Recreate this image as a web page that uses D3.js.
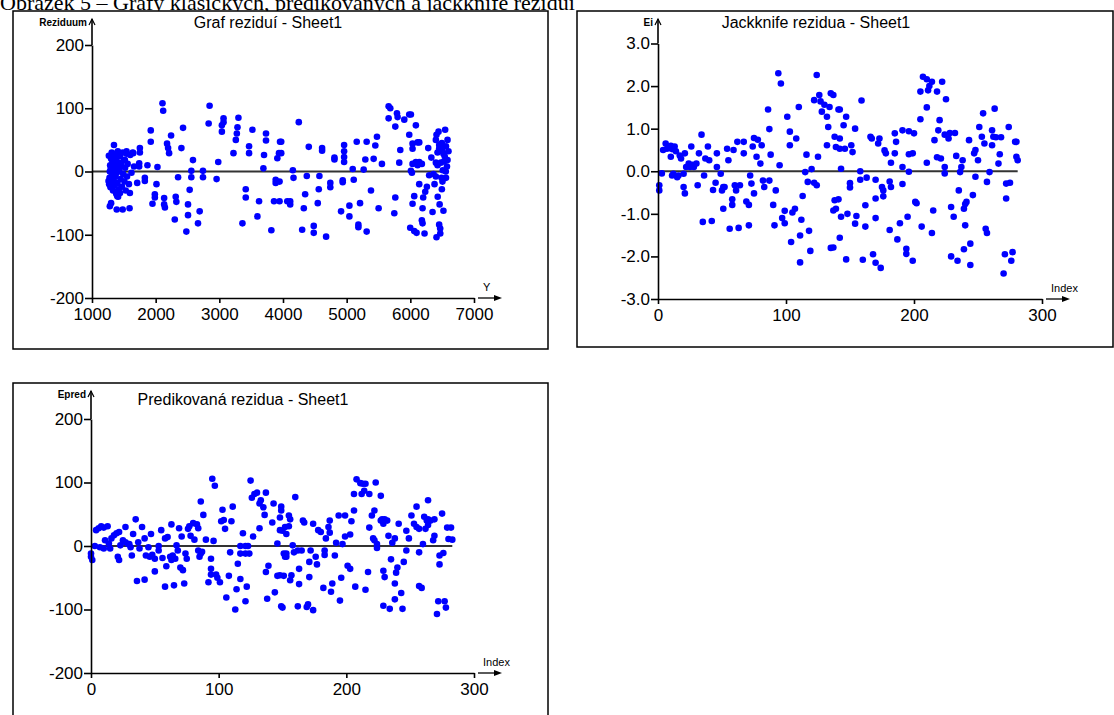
<!DOCTYPE html>
<html>
<head>
<meta charset="utf-8">
<script src="https://cdn.jsdelivr.net/npm/d3@7"></script>
<style>
  body { margin: 0; background: #fff; }
  svg { display: block; }
</style>
</head>
<body>
<div id="chart"></div>
<script>
const caption = "Obrázek 5 – Grafy klasických, predikovaných a jackknife reziduí";

// [Y (fitted), residual]
const residualPoints = [
  [1270,-20],[1275,-10],[1280,0],[1285,10],[1290,-25],[1295,5],[1300,20],[1305,-15],[1310,30],[1315,-5],
  [1320,15],[1325,25],[1330,-30],[1335,8],[1340,-12],[1345,42],[1350,18],[1355,-22],[1360,3],[1365,28],
  [1370,-8],[1375,12],[1380,-35],[1385,22],[1390,-2],[1395,6],[1400,-18],[1405,32],[1410,-40],[1415,14],
  [1420,-28],[1430,2],[1440,24],[1450,-12],[1460,10],[1470,-24],[1480,30],[1490,-4],[1500,18],[1510,-16],
  [1520,6],[1530,-30],[1540,28],[1550,-8],[1560,12],[1580,-20],[1600,26],[1620,-2],[1640,30],[1660,8],
  [1280,-55],[1300,-50],[1260,-15],[1265,25],[1388,-60],[1482,-60],[1590,-58],[1397,-39],[1440,-34],[1595,-34],
  [1543,32],[1517,18],[1752,37],[1752,30],[1741,13],[1741,8],[1647,29],[1710,-18],[1830,-10],[1830,-15],
  [1871,10],[1923,65],[1923,47],[1950,-51],[1987,-36],[1987,-41],[2013,-20],[2028,7],[2107,108],[2118,96],
  [2133,-42],[2133,-52],[2145,-57],[2179,44],[2195,37],[2211,29],[2242,57],[2300,-76],[2315,-40],[2325,-48],
  [2352,-9],[2404,37],[2430,69],[2508,-52],[2508,-69],[2482,-95],[2534,-29],[2586,18],[2560,1],[2560,-9],
  [2665,-82],[2691,-63],[2743,1],[2743,-9],[2847,104],[2832,76],[2957,-12],[2983,15],[3040,63],[3040,73],
  [3066,84],[3066,78],[3222,29],[3259,50],[3275,60],[3285,70],[3300,85],[3415,-28],[3415,-41],[3363,-82],
  [3467,40],[3467,29],[3520,66],[3598,-71],[3624,-47],[3692,5],[3702,26],[3733,60],[3733,49],[3817,-93],
  [3859,-47],[3885,-13],[3885,-18],[3911,21],[3937,29],[3953,47],[4067,-47],[3972,47],[3972,29],[3946,-16],
  [3946,-47],[4155,2],[4165,-10],[4248,78],[4113,-47],[4113,-52],[4301,-92],[4327,-58],[4348,-36],[4374,-7],
  [4405,39],[4483,-86],[4483,-97],[4546,-50],[4562,-28],[4572,-7],[4614,37],[4614,33],[4677,-103],[4743,-18],
  [4743,-25],[4808,22],[4808,19],[4912,-63],[4938,-14],[4938,-17],[4960,42],[4960,32],[4960,23],[4960,15],
  [5043,-54],[5043,-71],[5095,4],[5111,-13],[5158,47],[5184,-84],[5184,-88],[5210,-50],[5267,3],[5293,19],
  [5314,47],[5314,-95],[5382,-30],[5424,20],[5450,41],[5476,55],[5502,-58],[5554,12],[5659,103],[5685,100],
  [5659,84],[5748,-66],[5764,71],[5764,-41],[5790,92],[5800,86],[5826,14],[5842,34],[5905,82],[5983,90],
  [6009,90],[6009,1],[6035,12],[6025,-2],[5983,58],[6035,44],[6035,36],[6087,73],[6061,-39],[6035,-51],
  [6087,15],[6114,10],[6140,15],[6181,12],[6140,-20],[6114,46],[6140,46],[5998,-89],[6061,-94],[6098,-97],
  [6192,-82],[6181,-77],[6192,-58],[6202,-41],[6234,-32],[6260,-24],[6223,-98],[6281,37],[6296,-6],[6349,-64],
  [6364,-4],[6401,50],[6411,58],[6443,63],[6427,30],[6453,36],[6479,38],[6505,32],[6453,42],[6401,14],
  [6427,10],[6479,14],[6531,16],[6584,18],[6401,-8],[6490,-10],[6505,-16],[6495,-28],[6453,-84],[6469,-90],
  [6411,-104],[6547,66],[6584,50],[6599,32],[6557,0],[6495,45],[6520,28],[6540,24],[6560,40],[6575,8],
  [6430,-40],[6460,-52],[6520,-62],[6380,-20],[6560,-10],[6330,22],[6470,-98],[6510,2]
];

// [index, jackknife residual]
const jackknifePoints = [
  [1,-0.33],[1,-0.45],[3,-0.05],[4,0.5],[6,0.65],[7,0.53],[9,0.55],[10,0.6],[11,0.52],[10,0.34],
  [11,-0.1],[12,-0.06],[13,0.58],[14,0.47],[15,-0.14],[16,-0.1],[17,0.37],[18,0.3],[20,-0.06],[20,-0.37],
  [21,-0.52],[21,0.42],[22,0.1],[24,0.18],[25,0.1],[26,0.58],[27,0.15],[28,0.1],[30,0.18],[31,-0.33],
  [32,0.42],[34,0.86],[35,-1.19],[36,-0.1],[37,0.3],[39,0.58],[40,0.26],[42,-1.17],[43,-0.44],[45,-0.27],
  [46,0.42],[46,0.1],[49,-0.06],[50,-0.45],[51,-0.88],[51,-0.37],[52,-0.37],[54,0.53],[55,0.26],[56,-1.35],
  [58,-0.79],[58,-0.66],[59,0.5],[60,-0.33],[61,-0.45],[62,0.69],[63,-1.33],[64,-0.33],[67,0.42],[67,0.69],
  [69,-0.71],[71,-0.79],[71,-1.27],[72,-0.1],[73,-0.29],[75,-0.52],[74,0.58],[75,0.78],[77,0.34],[78,0.74],
  [80,0.18],[81,0.61],[82,-0.22],[83,-0.37],[86,1.45],[87,0.99],[87,-0.22],[88,0.39],[90,-0.79],[91,-1.27],
  [92,-0.45],[94,2.3],[96,2.06],[95,0.14],[97,-1.1],[99,-1.22],[99,-0.93],[101,1.28],[103,0.93],[103,0.61],
  [104,-1.66],[105,-0.97],[107,-0.88],[108,0.77],[110,1.51],[111,-1.51],[111,-2.14],[112,-1.14],[113,-0.58],[115,-0.02],
  [116,0.39],[117,-0.25],[118,-1.4],[119,-1.87],[120,0.05],[122,-0.27],[124,-0.33],[124,2.26],[125,0.34],[122,1.67],
  [126,1.79],[127,1.64],[128,1.4],[130,1.56],[132,1.28],[133,1.04],[132,0.61],[137,1.79],[137,-1.79],[141,-0.66],
  [139,-0.88],[142,1.45],[142,0.77],[142,0.53],[135,1.83],[134,1.51],[141,1.45],[138,0.81],[139,0.57],[145,1.08],
  [147,1.28],[146,0.53],[151,0.61],[152,0.45],[154,1.0],[159,1.66],[166,0.81],[167,0.77],[173,0.77],[172,0.65],
  [177,0.49],[178,0.42],[182,0.2],[185,0.89],[186,0.69],[185,0.42],[191,0.96],[196,0.94],[200,0.89],[191,0.1],
  [196,0.4],[199,0.42],[196,-0.01],[205,1.22],[207,2.22],[210,2.16],[214,2.1],[222,2.1],[212,2.0],[211,1.9],
  [205,1.87],[218,1.87],[225,1.69],[210,1.5],[220,1.2],[219,0.96],[216,0.73],[224,0.86],[227,0.77],[228,0.9],
  [232,0.9],[218,0.33],[221,0.3],[210,0.2],[224,0.1],[224,-0.05],[233,0.36],[237,0.1],[238,0.26],[236,-0.02],
  [243,0.73],[247,0.42],[248,0.5],[250,0.26],[251,1.04],[254,1.36],[253,0.81],[255,0.65],[261,0.96],[262,0.81],
  [263,1.47],[264,0.8],[268,0.8],[261,0.61],[274,1.04],[279,0.69],[280,0.69],[280,0.34],[281,0.26],[266,0.18],
  [267,0.4],[259,-0.02],[257,-0.25],[248,-0.13],[272,-0.29],[275,-0.27],[272,-0.64],[246,-0.56],[240,-0.77],[239,-0.88],
  [241,-0.72],[235,-0.45],[229,-0.84],[231,-1.07],[240,-1.27],[256,-1.35],[257,-1.45],[244,-1.7],[239,-1.83],[229,-2.0],
  [234,-2.1],[244,-2.2],[270,-2.4],[271,-1.95],[277,-1.9],[276,-2.1],[206,-1.3],[214,-1.45],[215,-0.92],[201,-0.72],
  [202,-0.75],[195,-1.07],[194,-1.82],[194,-1.94],[199,-2.1],[189,-1.22],[187,-1.6],[181,-1.38],[191,-0.3],[181,-0.24],
  [182,-0.37],[175,-0.37],[176,-0.45],[176,-0.59],[170,-0.64],[170,-1.1],[168,-1.95],[170,-2.15],[174,-2.27],[160,-2.08],
  [147,-2.07],[142,-1.56],[135,-1.8],[137,-0.92],[138,-0.68],[143,-1.07],[148,-1.0],[154,-1.23],[155,-1.05],[162,-1.3],
  [162,-0.8],[170,-0.2],[163,-0.15],[158,-0.2],[158,0.0],[150,-0.28],[150,-0.38],[143,0.06]
];

// [index, predicted residual]
const predictedPoints = [
  [0,-17],[0,-12],[1,-22],[3,0],[4,25],[6,28],[8,31],[10,29],[13,31],[7,-2],
  [10,-4],[11,9],[14,4],[15,-4],[16,12],[18,17],[20,20],[22,22],[21,-17],[22,-22],
  [23,1],[25,9],[27,6],[27,30],[29,3],[30,3],[31,-2],[32,-15],[35,42],[33,19],
  [36,-55],[37,6],[38,-4],[40,30],[42,12],[42,-53],[43,-15],[45,-2],[46,-17],[48,-14],
  [50,-20],[47,19],[50,-40],[53,0],[53,-7],[55,25],[56,-19],[58,-64],[58,12],[59,-32],
  [60,14],[62,-17],[63,-22],[64,-15],[66,-20],[63,34],[65,-62],[67,1],[68,-7],[69,28],
  [70,-34],[72,-38],[71,15],[73,-59],[74,-12],[75,-20],[76,27],[77,31],[78,16],[80,36],
  [81,10],[83,34],[84,28],[84,-7],[85,-17],[86,-12],[87,-9],[86,70],[88,49],[90,10],
  [92,-57],[94,-36],[94,-45],[95,106],[97,95],[94,-20],[96,8],[98,-45],[99,-50],[101,-57],
  [102,39],[103,57],[104,41],[105,27],[106,-81],[109,-10],[108,-47],[110,39],[111,62],[113,-100],
  [114,-68],[115,-28],[117,-52],[117,0],[117,-12],[121,0],[121,-12],[119,20],[121,-87],[122,-64],
  [123,0],[124,-12],[125,103],[126,76],[127,15],[128,82],[130,84],[132,67],[132,28],[133,72],
  [135,61],[136,49],[137,84],[137,-41],[138,-83],[139,-31],[143,67],[142,37],[144,-73],[146,-47],
  [146,4],[148,45],[149,56],[150,24],[150,-97],[151,-47],[153,-12],[153,-17],[155,31],[156,42],
  [148,25],[148,-46],[149,-95],[149,62],[152,30],[153,19],[151,-12],[152,-17],[155,48],[158,1],
  [157,-46],[156,-54],[159,-10],[160,77],[162,-7],[165,-7],[163,-36],[163,-60],[162,-95],[166,40],
  [167,37],[169,-96],[170,-92],[174,-101],[171,-49],[171,-25],[174,35],[172,-7],[176,-17],[177,-29],
  [178,25],[180,22],[182,-66],[183,-7],[183,-14],[184,12],[187,40],[187,21],[186,30],[188,-72],
  [189,-59],[191,-15],[192,5],[194,48],[199,48],[195,-86],[196,-50],[197,3],[199,15],[203,18],
  [201,-31],[203,-36],[204,39],[206,56],[207,-64],[208,105],[211,99],[213,98],[206,82],[212,82],
  [214,87],[215,98],[218,82],[222,56],[220,48],[223,100],[227,79],[221,12],[222,9],[224,3],
  [224,-3],[217,-41],[215,-69],[218,29],[227,40],[228,42],[230,42],[232,40],[229,35],[229,-94],
  [234,-99],[229,-39],[230,-49],[233,16],[235,-21],[236,5],[238,12],[238,-59],[238,-84],[239,-42],
  [240,-34],[241,35],[243,-74],[244,-99],[245,-25],[247,-7],[247,24],[249,12],[251,48],[255,62],
  [253,35],[255,30],[257,27],[257,-10],[257,-63],[259,-66],[260,3],[261,46],[263,40],[264,42],
  [266,40],[269,42],[262,27],[264,33],[264,72],[268,9],[269,16],[275,51],[273,-15],[276,-11],
  [273,-29],[272,-87],[277,-87],[278,-97],[271,-107],[279,29],[282,29],[280,11],[283,10]
];

const residualXTicks = [1000, 2000, 3000, 4000, 5000, 6000, 7000];
const residualYTicks = [-200, -100, 0, 100, 200];
const indexTicks = [0, 100, 200, 300];
const jackknifeYTicks = [-3, -2, -1, 0, 1, 2, 3];

const width = 1114;
const height = 715;
const pointColor = "#0000ff";
const labelFont = "Liberation Sans, Arial, sans-serif";

const svg = d3.select("#chart")
    .append("svg")
    .attr("width", width)
    .attr("height", height);

// figure caption, cut off at the top of the page like in the scan
svg.append("text")
    .attr("x", 0)
    .attr("y", 10)
    .style("font-family", "Liberation Serif, Times New Roman, serif")
    .style("font-size", "22px")
    .text(caption);

const hyphenMinus = f => v => f(v).replace("\u2212", "-");

function drawPanel(p) {
    const g = svg.append("g");

    g.append("rect")
        .attr("x", p.box[0]).attr("y", p.box[1])
        .attr("width", p.box[2]).attr("height", p.box[3])
        .attr("fill", "#fff")
        .attr("stroke", "#000")
        .attr("stroke-width", 1.5);

    const x = d3.scaleLinear().domain(p.xDomain).range(p.xRange);
    const y = d3.scaleLinear().domain(p.yDomain).range(p.yRange);

    g.append("text")
        .attr("x", p.titleX).attr("y", p.box[1] + p.titleDy)
        .attr("text-anchor", "middle")
        .style("font-family", labelFont)
        .style("font-size", "16px")
        .text(p.title);

    // zero reference line
    const xs = p.data.map(d => d[0]);
    g.append("line")
        .attr("x1", x(p.xDomain[0])).attr("x2", x(d3.max(xs)))
        .attr("y1", y(0)).attr("y2", y(0))
        .attr("stroke", "#333")
        .attr("stroke-width", 2);

    g.selectAll("circle.pt")
        .data(p.data)
        .enter()
        .append("circle")
        .attr("class", "pt")
        .attr("cx", d => x(d[0]))
        .attr("cy", d => y(d[1]))
        .attr("r", 3.3)
        .attr("fill", pointColor);

    const yAxis = g.append("g")
        .attr("transform", `translate(${p.xRange[0]},0)`)
        .call(d3.axisLeft(y).tickValues(p.yTicks).tickSize(7).tickSizeOuter(0)
            .tickFormat(hyphenMinus(p.yFormat)));

    const xAxis = g.append("g")
        .attr("transform", `translate(0,${p.yRange[0]})`)
        .call(d3.axisBottom(x).tickValues(p.xTicks).tickSize(5).tickSizeOuter(0)
            .tickFormat(d3.format("d")));

    [yAxis, xAxis].forEach(a => {
        a.selectAll("path, line").attr("stroke", "#000").attr("stroke-width", 1.6);
        a.selectAll("text")
            .style("font-family", labelFont)
            .style("font-size", "17px")
            .attr("fill", "#000");
    });
    yAxis.selectAll("text").attr("x", -8);
    xAxis.selectAll("text").attr("y", 6).attr("dy", "0.95em");

    // y axis arrow going up past the last tick
    const ax = p.xRange[0];
    const topY = p.box[1] + 8;
    g.append("line")
        .attr("x1", ax).attr("x2", ax)
        .attr("y1", p.yRange[1]).attr("y2", topY)
        .attr("stroke", "#000").attr("stroke-width", 1.6);
    g.append("path")
        .attr("d", `M${ax - 3},${topY + 6} L${ax},${topY} L${ax + 3},${topY + 6}`)
        .attr("fill", "none").attr("stroke", "#000").attr("stroke-width", 1.2);
    g.append("text")
        .attr("x", ax - 5).attr("y", topY + 7)
        .attr("text-anchor", "end")
        .style("font-family", labelFont)
        .style("font-size", "10px")
        .style("font-weight", "bold")
        .text(p.yLabel);

    // x axis arrow detached after the last tick
    const ay = p.yRange[0];
    const ex = p.xRange[1];
    g.append("line")
        .attr("x1", ex + 4).attr("x2", ex + 22)
        .attr("y1", ay).attr("y2", ay)
        .attr("stroke", "#000").attr("stroke-width", 1.3);
    g.append("path")
        .attr("d", `M${ex + 20},${ay - 3} L${ex + 28},${ay} L${ex + 20},${ay + 3} Z`)
        .attr("fill", "#000");
    g.append("text")
        .attr("x", ex + 9).attr("y", ay - 7)
        .style("font-family", labelFont)
        .style("font-size", "11px")
        .text(p.xLabel);
}

drawPanel({
    box: [13, 11, 535, 338],
    title: "Graf reziduí - Sheet1", titleX: 268, titleDy: 17,
    data: residualPoints,
    xDomain: [1000, 7000], xRange: [92, 474],
    yDomain: [-200, 200], yRange: [298, 45],
    xTicks: residualXTicks, yTicks: residualYTicks,
    yFormat: d3.format("d"),
    yLabel: "Reziduum", xLabel: "Y"
});

drawPanel({
    box: [577, 11, 536, 336],
    title: "Jackknife rezidua - Sheet1", titleX: 816, titleDy: 17,
    data: jackknifePoints,
    xDomain: [0, 300], xRange: [658, 1042],
    yDomain: [-3, 3], yRange: [299, 43.5],
    xTicks: indexTicks, yTicks: jackknifeYTicks,
    yFormat: d3.format(".1f"),
    yLabel: "Ei", xLabel: "Index"
});

drawPanel({
    box: [13, 383, 535, 340],
    title: "Predikovaná rezidua - Sheet1", titleX: 243, titleDy: 22,
    data: predictedPoints,
    xDomain: [0, 300], xRange: [91, 474],
    yDomain: [-200, 200], yRange: [673, 419],
    xTicks: indexTicks, yTicks: residualYTicks,
    yFormat: d3.format("d"),
    yLabel: "Epred", xLabel: "Index"
});
</script>
</body>
</html>
